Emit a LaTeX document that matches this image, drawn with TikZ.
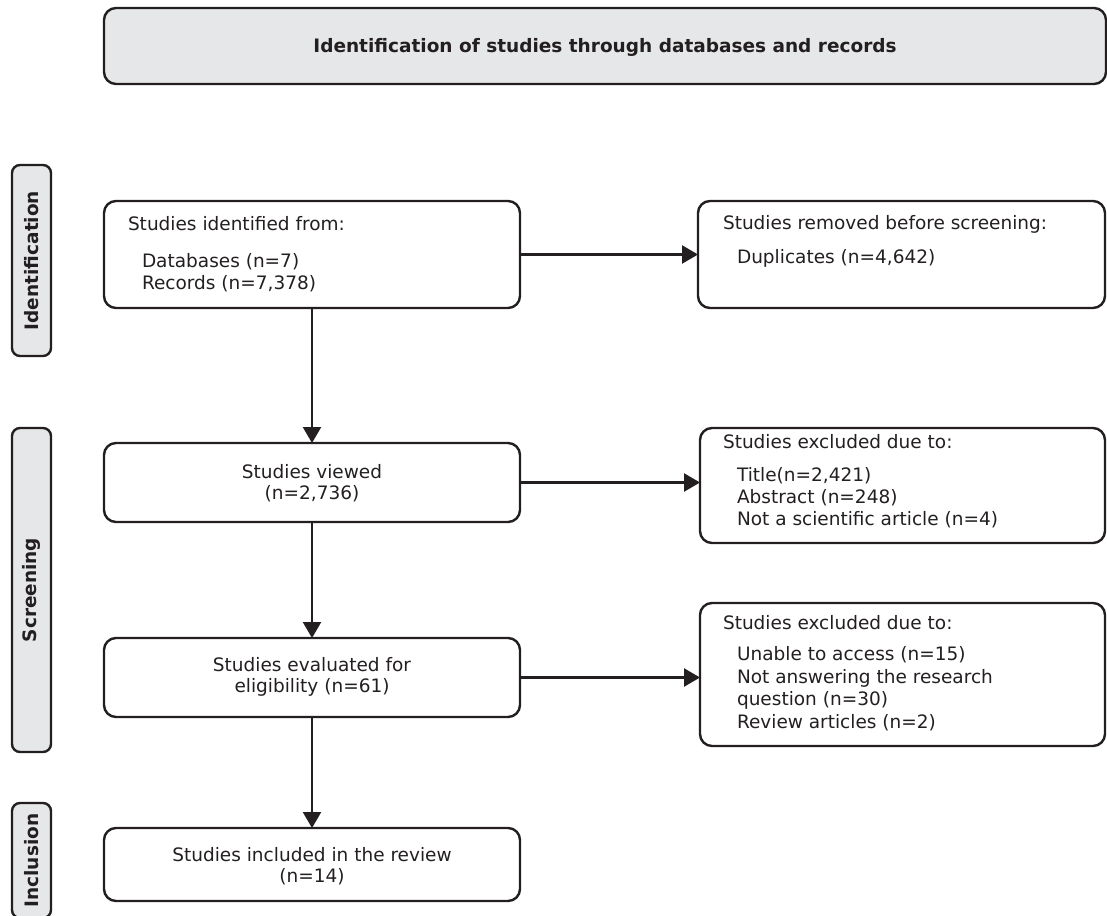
\documentclass[tikz,border=0pt]{standalone}
\usepackage{fontspec}
\setmainfont{DejaVu Sans}
\usetikzlibrary{arrows.meta}
\definecolor{ink}{HTML}{231F20}
\definecolor{panel}{HTML}{E6E7E8}
\tikzset{
  box/.style={draw=ink, line width=2.4pt, rounded corners=12pt, inner sep=0pt, outer sep=0pt},
  graybox/.style={box, fill=panel},
  sidebox/.style={draw=ink, fill=panel, line width=2.4pt, rounded corners=8pt, inner sep=0pt, outer sep=0pt},
  txt/.style={inner sep=0pt, outer sep=0pt, text=ink, font=\fontsize{18.5}{21}\selectfont},
  ltxt/.style={txt, anchor=base west},
  ctxt/.style={txt, align=center, anchor=center},
  btxt/.style={txt, font=\fontsize{18.5}{21}\selectfont\bfseries},
  flow/.style={draw=ink, line width=2.4pt, -{Triangle[length=16pt,width=18pt]}}
}
\begin{document}
\begin{tikzpicture}[x=1pt,y=-1pt]
\useasboundingbox (0,0) rectangle (1107,915);
% header
\node[graybox, minimum width=1002pt, minimum height=76pt] (top) at (605,46) {};
\node[btxt] (toptxt) at (605,47) {Identification of studies through databases and records};
% side labels
\node[sidebox, minimum width=39pt, minimum height=191pt] (s1) at (31.5,260.5) {};
\node[btxt, rotate=90] (s1t) at (31.5,260.5) {Identification};
\node[sidebox, minimum width=39pt, minimum height=324pt] (s2) at (31.5,590) {};
\node[btxt, rotate=90] (s2t) at (31.5,590) {Screening};
\node[sidebox, minimum width=39pt, minimum height=115pt] (s3) at (31.5,860.5) {};
\node[btxt, rotate=90] (s3t) at (31.5,860.5) {Inclusion};
% boxes
\node[box, minimum width=416pt, minimum height=107pt] (b1) at (312,254.5) {};
\node[ltxt] (b1a) at (128,230) {Studies identified from:};
\node[ltxt] (b1b) at (142,267) {Databases (n=7)};
\node[ltxt] (b1c) at (142,289) {Records (n=7,378)};

\node[box, minimum width=407pt, minimum height=107pt] (b2) at (901.5,254.5) {};
\node[ltxt] (b2a) at (723,229) {Studies removed before screening:};
\node[ltxt] (b2b) at (737,263) {Duplicates (n=4,642)};

\node[box, minimum width=416pt, minimum height=79pt] (b3) at (312,482.5) {};
\node[ctxt] (b3t) at (312,483) {Studies viewed\\(n=2,736)};

\node[box, minimum width=405pt, minimum height=115pt] (b4) at (902.5,485.5) {};
\node[ltxt] (b4a) at (723,448) {Studies excluded due to:};
\node[ltxt] (b4b) at (737,481) {Title(n=2,421)};
\node[ltxt] (b4c) at (737,503) {Abstract (n=248)};
\node[ltxt] (b4d) at (737,525) {Not a scientific article (n=4)};

\node[box, minimum width=416pt, minimum height=79pt] (b5) at (312,677.5) {};
\node[ctxt] (b5t) at (312,677) {Studies evaluated for\\eligibility (n=61)};

\node[box, minimum width=405pt, minimum height=143pt] (b6) at (902.5,674.5) {};
\node[ltxt] (b6a) at (723,629) {Studies excluded due to:};
\node[ltxt] (b6b) at (737,660) {Unable to access (n=15)};
\node[ltxt] (b6c) at (737,683) {Not answering the research};
\node[ltxt] (b6d) at (737,705) {question (n=30)};
\node[ltxt] (b6e) at (737,728) {Review articles (n=2)};

\node[box, minimum width=416pt, minimum height=73pt] (b7) at (312,864.5) {};
\node[ctxt] (b7t) at (312,866) {Studies included in the review\\(n=14)};
% connectors
\draw[flow] (b1.east) -- (b1.east -| b2.west);
\draw[flow] (b3.east) -- (b3.east -| b4.west);
\draw[flow] (b5.east) -- (b5.east -| b6.west);
\draw[flow] (b1.south) -- (b3.north);
\draw[flow] (b3.south) -- (b5.north);
\draw[flow] (b5.south) -- (b7.north);
\end{tikzpicture}
\end{document}
